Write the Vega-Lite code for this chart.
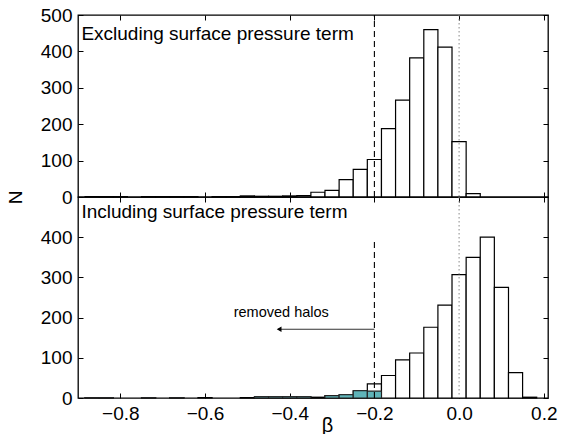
{
  "$schema": "https://vega.github.io/schema/vega-lite/v6.json",
  "background": "white",
  "padding": {"left": 5, "top": 5, "right": 5, "bottom": 0},
  "config": {
    "view": {"stroke": "black", "strokeWidth": 1.3},
    "font": "Liberation Sans",
    "axis": {
      "domain": false, "grid": false, "tickColor": "black", "tickSize": -5, "tickWidth": 1,
      "labelFontSize": 19, "labelColor": "black", "labelPadding": 11, "labelFlush": false,
      "labelFont": "Liberation Sans", "titleFont": "Liberation Sans",
      "titleFontSize": 19, "titleColor": "black", "titleFontWeight": "normal"
    }
  },
  "datasets": {
    "top": [
      {"x0": -0.8833, "x1": -0.85, "n": 1},
      {"x0": -0.85, "x1": -0.8167, "n": 1},
      {"x0": -0.8167, "x1": -0.7833, "n": 1},
      {"x0": -0.75, "x1": -0.7167, "n": 1},
      {"x0": -0.7167, "x1": -0.6833, "n": 1},
      {"x0": -0.6833, "x1": -0.65, "n": 1},
      {"x0": -0.65, "x1": -0.6167, "n": 1},
      {"x0": -0.5833, "x1": -0.55, "n": 1},
      {"x0": -0.55, "x1": -0.5167, "n": 1},
      {"x0": -0.5167, "x1": -0.4833, "n": 3},
      {"x0": -0.4833, "x1": -0.45, "n": 2},
      {"x0": -0.45, "x1": -0.4167, "n": 2},
      {"x0": -0.4167, "x1": -0.3833, "n": 3},
      {"x0": -0.3833, "x1": -0.35, "n": 4},
      {"x0": -0.35, "x1": -0.3167, "n": 13},
      {"x0": -0.3167, "x1": -0.2833, "n": 18},
      {"x0": -0.2833, "x1": -0.25, "n": 48},
      {"x0": -0.25, "x1": -0.2167, "n": 76},
      {"x0": -0.2167, "x1": -0.1833, "n": 103},
      {"x0": -0.1833, "x1": -0.15, "n": 188},
      {"x0": -0.15, "x1": -0.1167, "n": 266},
      {"x0": -0.1167, "x1": -0.0833, "n": 382},
      {"x0": -0.0833, "x1": -0.05, "n": 460},
      {"x0": -0.05, "x1": -0.0167, "n": 412},
      {"x0": -0.0167, "x1": 0.0167, "n": 152},
      {"x0": 0.0167, "x1": 0.05, "n": 9}
    ],
    "bottom": [
      {"x0": -0.8833, "x1": -0.85, "n": 1, "removed": 1},
      {"x0": -0.85, "x1": -0.8167, "n": 1, "removed": 1},
      {"x0": -0.75, "x1": -0.7167, "n": 1, "removed": 1},
      {"x0": -0.6833, "x1": -0.65, "n": 1, "removed": 1},
      {"x0": -0.6167, "x1": -0.5833, "n": 1, "removed": 0},
      {"x0": -0.5167, "x1": -0.4833, "n": 1, "removed": 0},
      {"x0": -0.4833, "x1": -0.45, "n": 3, "removed": 3},
      {"x0": -0.45, "x1": -0.4167, "n": 3, "removed": 3},
      {"x0": -0.4167, "x1": -0.3833, "n": 3, "removed": 3},
      {"x0": -0.3833, "x1": -0.35, "n": 3, "removed": 3},
      {"x0": -0.35, "x1": -0.3167, "n": 2, "removed": 0},
      {"x0": -0.3167, "x1": -0.2833, "n": 6, "removed": 6},
      {"x0": -0.2833, "x1": -0.25, "n": 8, "removed": 8},
      {"x0": -0.25, "x1": -0.2167, "n": 18, "removed": 18},
      {"x0": -0.2167, "x1": -0.1833, "n": 35, "removed": 17},
      {"x0": -0.1833, "x1": -0.15, "n": 56, "removed": 0},
      {"x0": -0.15, "x1": -0.1167, "n": 95, "removed": 0},
      {"x0": -0.1167, "x1": -0.0833, "n": 112, "removed": 0},
      {"x0": -0.0833, "x1": -0.05, "n": 176, "removed": 0},
      {"x0": -0.05, "x1": -0.0167, "n": 231, "removed": 0},
      {"x0": -0.0167, "x1": 0.0167, "n": 307, "removed": 0},
      {"x0": 0.0167, "x1": 0.05, "n": 350, "removed": 0},
      {"x0": 0.05, "x1": 0.0833, "n": 400, "removed": 0},
      {"x0": 0.0833, "x1": 0.1167, "n": 275, "removed": 0},
      {"x0": 0.1167, "x1": 0.15, "n": 63, "removed": 0},
      {"x0": 0.15, "x1": 0.1833, "n": 2, "removed": 0}
    ]
  },
  "spacing": 0,
  "bounds": "flush",
  "vconcat": [
    {
      "width": 470,
      "height": 182,
      "layer": [
        {
          "data": {"name": "top"},
          "mark": {"type": "rect", "fill": "white", "stroke": "black", "strokeWidth": 1.2},
          "encoding": {
            "x": {"field": "x0", "type": "quantitative", "scale": {"domain": [-0.9, 0.21], "nice": false, "zero": false},
                  "axis": {"orient": "bottom", "values": [-0.8, -0.6, -0.4, -0.2, 0, 0.2], "labels": false, "title": null}},
            "x2": {"field": "x1"},
            "y": {"field": "n", "type": "quantitative", "scale": {"domain": [0, 500], "nice": false},
                  "axis": {"orient": "left", "values": [0, 100, 200, 300, 400, 500], "title": "N",
                           "titleX": -63, "titleY": 182, "titleAngle": -90, "titleBaseline": "middle", "titleAlign": "center"}},
            "y2": {"datum": 0}
          }
        },
        {
          "data": {"values": [{}]},
          "mark": {"type": "rule", "strokeDash": [1.5, 2.5], "color": "#888888", "strokeWidth": 1},
          "encoding": {"x": {"datum": 0, "type": "quantitative", "axis": null}}
        },
        {
          "data": {"values": [{}]},
          "mark": {"type": "rule", "strokeDash": [6, 4], "color": "black", "strokeWidth": 1.1},
          "encoding": {
            "x": {"datum": -0.2, "type": "quantitative",
                  "axis": {"orient": "top", "values": [-0.8, -0.6, -0.4, -0.2, 0, 0.2], "labels": false, "title": null}},
            "y": {"datum": 0, "type": "quantitative",
                  "axis": {"orient": "right", "values": [0, 100, 200, 300, 400, 500], "labels": false, "title": null}},
            "y2": {"datum": 500}
          }
        },
        {
          "data": {"values": [{}]},
          "mark": {"type": "text", "align": "left", "baseline": "alphabetic", "fontSize": 19, "font": "Liberation Sans", "color": "black"},
          "encoding": {
            "x": {"datum": -0.892, "type": "quantitative", "axis": null},
            "y": {"datum": 432, "type": "quantitative", "axis": null},
            "text": {"value": "Excluding surface pressure term"}
          }
        }
      ],
      "resolve": {"axis": {"x": "independent", "y": "independent"}}
    },
    {
      "width": 470,
      "height": 201,
      "layer": [
        {
          "data": {"name": "bottom"},
          "mark": {"type": "rect", "fill": "white", "stroke": "black", "strokeWidth": 1.2},
          "encoding": {
            "x": {"field": "x0", "type": "quantitative", "scale": {"domain": [-0.9, 0.21], "nice": false, "zero": false},
                  "axis": {"orient": "bottom", "values": [-0.8, -0.6, -0.4, -0.2, 0, 0.2], "title": "β",
                           "titleFontSize": 20, "titleX": 249, "titleY": 27, "titleBaseline": "middle", "titleAlign": "center"}},
            "x2": {"field": "x1"},
            "y": {"field": "n", "type": "quantitative", "scale": {"domain": [0, 500], "nice": false},
                  "axis": {"orient": "left", "values": [0, 100, 200, 300, 400], "title": null}},
            "y2": {"datum": 0}
          }
        },
        {
          "data": {"name": "bottom"},
          "transform": [{"filter": "datum.removed > 0"}],
          "mark": {"type": "rect", "fill": "#5fb4b9", "stroke": "#222222", "strokeWidth": 1.1},
          "encoding": {
            "x": {"field": "x0", "type": "quantitative", "axis": null},
            "x2": {"field": "x1"},
            "y": {"field": "removed", "type": "quantitative", "axis": null},
            "y2": {"datum": 0}
          }
        },
        {
          "data": {"values": [{}]},
          "mark": {"type": "rule", "strokeDash": [1.5, 2.5], "color": "#888888", "strokeWidth": 1},
          "encoding": {"x": {"datum": 0, "type": "quantitative", "axis": null}}
        },
        {
          "data": {"values": [{}]},
          "mark": {"type": "rule", "strokeDash": [6, 4], "color": "black", "strokeWidth": 1.1},
          "encoding": {
            "x": {"datum": -0.2, "type": "quantitative",
                  "axis": {"orient": "top", "values": [-0.8, -0.6, -0.4, -0.2, 0, 0.2], "labels": false, "title": null}},
            "y": {"datum": 0, "type": "quantitative",
                  "axis": {"orient": "right", "values": [0, 100, 200, 300, 400], "labels": false, "title": null}},
            "y2": {"datum": 397}
          }
        },
        {
          "data": {"values": [{}]},
          "mark": {"type": "rule", "color": "#333333", "strokeWidth": 1},
          "encoding": {
            "x": {"datum": -0.2, "type": "quantitative", "axis": null},
            "x2": {"datum": -0.428},
            "y": {"datum": 171, "type": "quantitative", "axis": null}
          }
        },
        {
          "data": {"values": [{}]},
          "mark": {"type": "point", "shape": "triangle-left", "filled": true, "color": "black", "size": 30, "opacity": 1},
          "encoding": {
            "x": {"datum": -0.425, "type": "quantitative", "axis": null},
            "y": {"datum": 171, "type": "quantitative", "axis": null}
          }
        },
        {
          "data": {"values": [{}]},
          "mark": {"type": "text", "align": "center", "baseline": "middle", "fontSize": 14.5, "font": "Liberation Sans", "color": "black"},
          "encoding": {
            "x": {"datum": -0.42, "type": "quantitative", "axis": null},
            "y": {"datum": 212, "type": "quantitative", "axis": null},
            "text": {"value": "removed halos"}
          }
        },
        {
          "data": {"values": [{}]},
          "mark": {"type": "text", "align": "left", "baseline": "alphabetic", "fontSize": 19, "font": "Liberation Sans", "color": "black"},
          "encoding": {
            "x": {"datum": -0.892, "type": "quantitative", "axis": null},
            "y": {"datum": 448, "type": "quantitative", "axis": null},
            "text": {"value": "Including surface pressure term"}
          }
        }
      ],
      "resolve": {"axis": {"x": "independent", "y": "independent"}}
    }
  ]
}
